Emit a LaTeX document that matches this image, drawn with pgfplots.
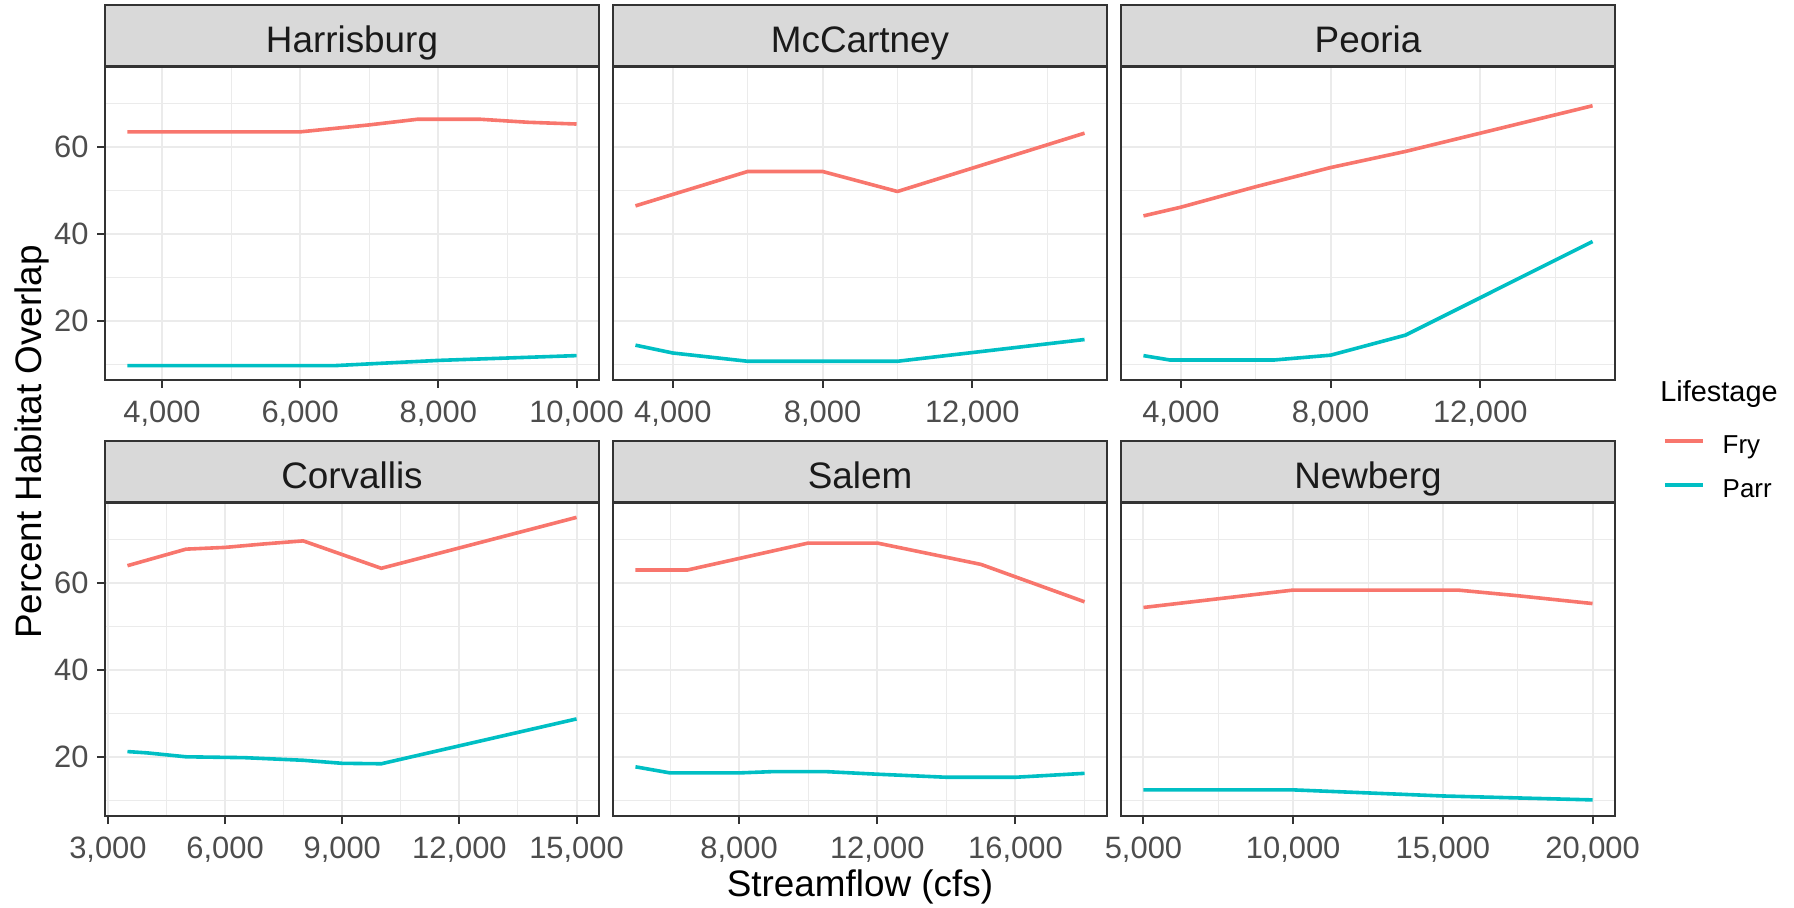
\documentclass[border=0pt]{standalone}
\usepackage{pgfplots}
\pgfplotsset{compat=1.18}
\usepackage{fontspec}
\setmainfont{Liberation Sans}
\definecolor{fry}{HTML}{F8766D}
\definecolor{parr}{HTML}{00BFC4}
\definecolor{gridc}{HTML}{EBEBEB}
\definecolor{framec}{HTML}{333333}
\definecolor{tickc}{HTML}{4D4D4D}
\definecolor{stripc}{HTML}{D9D9D9}
\definecolor{striptext}{HTML}{1A1A1A}

\pgfplotsset{
  panel/.style={
    scale only axis, width=247bp, height=156.5bp,
    anchor=south west,
    ymin=6.4, ymax=78.3,
    ytick={20,40,60}, minor ytick={10,30,50,70},
    grid=both,
    major grid style={draw=gridc, line width=1bp},
    minor grid style={draw=gridc, line width=0.5bp},
    axis line style={draw=framec, line width=1bp},
    tick align=outside,
    major tick length=4bp, minor tick length=0pt,
    tick style={draw=framec, line width=1bp},
    xtick pos=left, ytick pos=left,
    scaled x ticks=false,
    /pgf/number format/1000 sep={,},
    /pgf/number format/assume math mode=true,
    xticklabel style={font=\fontsize{15.5}{16}\selectfont, text=tickc, inner sep=0pt, yshift=-6.3bp},
    yticklabel style={font=\fontsize{15.5}{16}\selectfont, text=tickc, inner sep=0pt, xshift=-4bp},
    every axis title/.style={at={(0.5,1)}, anchor=south, fill=stripc, draw=framec, line width=1bp,
       minimum width=247bp, minimum height=30.5bp, inner sep=0pt,
       text height=16.8bp, text depth=0bp, text=striptext,
       font=\fontsize{18.5}{20}\selectfont},
    every axis plot/.append style={line width=1.8bp, line join=round},
  },
  inner/.style={yticklabels={}, ytick style={draw=none}},
}

\begin{document}
\begin{tikzpicture}
\path[use as bounding box] (0,0) rectangle (897bp,454bp);

% ---------- Row 1 ----------
\begin{axis}[panel, at={(52.5bp,264bp)}, title={Harrisburg},
  xmin=3175, xmax=10325, xtick={4000,6000,8000,10000}, minor xtick={5000,7000,9000}]
\addplot[fry] coordinates {(3500,63.4) (6000,63.4) (7000,65.0) (7700,66.3) (8600,66.3) (9300,65.6) (10000,65.2)};
\addplot[parr] coordinates {(3500,9.7) (6500,9.7) (8000,10.9) (10000,12.0)};
\end{axis}

\begin{axis}[panel, inner, at={(306.5bp,264bp)}, title={McCartney},
  xmin=2400, xmax=15600, xtick={4000,8000,12000}, minor xtick={6000,10000,14000}]
\addplot[fry] coordinates {(3000,46.4) (6000,54.3) (8000,54.3) (10000,49.7) (15000,63.1)};
\addplot[parr] coordinates {(3000,14.4) (4000,12.6) (6000,10.7) (10000,10.7) (15000,15.7)};
\end{axis}

\begin{axis}[panel, inner, at={(560.5bp,264bp)}, title={Peoria},
  xmin=2400, xmax=15600, xtick={4000,8000,12000}, minor xtick={6000,10000,14000},
  legend style={at={(axis description cs:1.0966,-0.1735)}, anchor=north west, draw=none, fill=none,
    inner sep=0pt, row sep=12.6bp, column sep=9bp, font=\fontsize{13}{14}\selectfont,
    nodes={inner sep=0pt, text height=9.3bp, text depth=0pt}},
  legend cell align=left,
  legend image code/.code={\draw[#1, line width=1.8bp] (0bp,1.5bp) -- (19bp,1.5bp);}]
\addplot[fry] coordinates {(3000,44.1) (4000,46.1) (6000,50.8) (8000,55.2) (10000,58.9) (12000,63.1) (15000,69.4)};
\addlegendentry{Fry}
\addplot[parr] coordinates {(3000,12.0) (3700,11.0) (6500,11.0) (8000,12.1) (9000,14.4) (10000,16.7) (15000,38.2)};
\addlegendentry{Parr}
\end{axis}

% ---------- Row 2 ----------
\begin{axis}[panel, at={(52.5bp,46bp)}, title={Corvallis},
  xmin=2925, xmax=15575, xtick={3000,6000,9000,12000,15000}, minor xtick={4500,7500,10500,13500}]
\addplot[fry] coordinates {(3500,63.9) (5000,67.7) (6000,68.1) (7000,68.9) (8000,69.6) (10000,63.3) (15000,75.0)};
\addplot[parr] coordinates {(3500,21.2) (4000,20.9) (5000,20.0) (6500,19.8) (8000,19.2) (9000,18.5) (10000,18.4) (15000,28.7)};
\end{axis}

\begin{axis}[panel, inner, at={(306.5bp,46bp)}, title={Salem},
  xmin=4350, xmax=18650, xtick={8000,12000,16000}, minor xtick={6000,10000,14000,18000}]
\addplot[fry] coordinates {(5000,62.9) (6500,62.9) (10000,69.1) (12000,69.1) (15000,64.2) (18000,55.6)};
\addplot[parr] coordinates {(5000,17.7) (6000,16.3) (8000,16.3) (9000,16.6) (10500,16.6) (12000,16.0) (14000,15.3) (16000,15.3) (18000,16.2)};
\end{axis}

\begin{axis}[panel, inner, at={(560.5bp,46bp)}, title={Newberg},
  xmin=4250, xmax=20750, xtick={5000,10000,15000,20000}, minor xtick={7500,12500,17500}]
\addplot[fry] coordinates {(5000,54.3) (10000,58.3) (15500,58.3) (17500,57.0) (20000,55.2)};
\addplot[parr] coordinates {(5000,12.4) (10000,12.4) (15000,11.0) (20000,10.1)};
\end{axis}

% ---------- Titles ----------
\node[rotate=90, anchor=base, inner sep=0pt, font=\fontsize{18.5}{20}\selectfont] at (20.8bp,233bp) {Percent Habitat Overlap};
\node[anchor=base, inner sep=0pt, font=\fontsize{18.5}{20}\selectfont] at (430bp,5.65bp) {Streamflow (cfs)};
\node[anchor=base west, inner sep=0pt, font=\fontsize{14.5}{16}\selectfont] at (830bp,253.15bp) {Lifestage};
\end{tikzpicture}
\end{document}
